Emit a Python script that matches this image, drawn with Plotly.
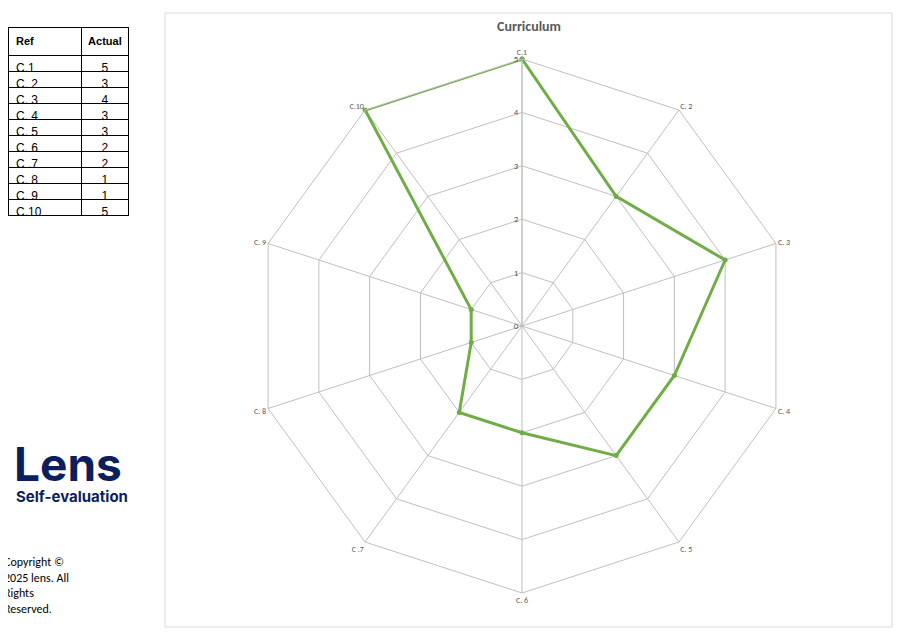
import plotly.graph_objects as go

# --- DATA ---
refs = ["C.1", "C. 2", "C. 3", "C. 4", "C. 5", "C. 6", "C .7", "C. 8", "C. 9", "C.10"]
axis_labels = ["C.1", "C. 2", "C. 3", "C. 4", "C. 5", "C. 6", "C .7", "C. 8", "C. 9", "C.10"]
actual = [5, 3, 4, 3, 3, 2, 2, 1, 1, 5]
radial_ticks = [0, 1, 2, 3, 4, 5]

W, H = 903, 640
OFF = 8  # page margin offset
GREEN = "#70AD47"
NAVY = "#0B1F5C"


def px_x(x):
    return (x - OFF) / W


def px_y(y):
    return 1 - (y - OFF) / H


fig = go.Figure()

# radar line
fig.add_trace(go.Scatterpolar(
    r=actual + actual[:1], theta=axis_labels + axis_labels[:1],
    mode="lines+markers", line=dict(color=GREEN, width=3),
    marker=dict(size=5, color=GREEN), showlegend=False, hoverinfo="r+theta",
))

# data table
fig.add_trace(go.Table(
    domain=dict(x=[0, px_x(128)], y=[px_y(260), px_y(27)]),
    columnwidth=[75, 47],
    header=dict(values=["<b>Ref</b>", "<b>Actual</b>"], align=["left", "center"],
                line=dict(color="black", width=1), fill_color="white",
                font=dict(family="Arial", size=11, color="black"), height=16),
    cells=dict(values=[refs, actual], align=["left", "center"],
               line=dict(color="black", width=1), fill_color="white",
               font=dict(family="Arial", size=12, color="black"), height=16),
))

cx, cy, R = 522, 326, 267
fig.update_layout(
    width=W, height=H, margin=dict(l=0, r=0, t=0, b=0),
    paper_bgcolor="white", plot_bgcolor="white",
    polar=dict(
        domain=dict(x=[px_x(cx - R), px_x(cx + R)], y=[px_y(cy + R), px_y(cy - R)]),
        bgcolor="white", gridshape="linear",
        angularaxis=dict(direction="clockwise", rotation=90, showline=True,
                         linecolor="#BFBFBF", gridcolor="#BFBFBF", ticks="",
                         tickfont=dict(family="Calibri, Carlito, Arial", size=8, color="#595959")),
        radialaxis=dict(range=[0, 5], tickvals=radial_ticks, angle=90, tickangle=90,
                        showline=True, linecolor="#BFBFBF", gridcolor="#BFBFBF",
                        ticks="", side="counterclockwise",
                        tickfont=dict(family="Calibri, Carlito, Arial", size=9, color="#595959")),
    ),
    title=dict(text="<b>Curriculum</b>", x=px_x(529), xanchor="center", y=px_y(26), yanchor="middle",
               font=dict(family="Calibri, Carlito, Arial", size=14, color="#595959")),
    shapes=[
        dict(type="rect", xref="paper", yref="paper", x0=px_x(165), x1=px_x(892),
             y0=px_y(627), y1=px_y(13), line=dict(color="#D9D9D9", width=1)),
    ],
    annotations=[
        dict(text="<b>Lens</b>", x=px_x(12), y=px_y(464), xref="paper", yref="paper",
             xanchor="left", yanchor="middle", showarrow=False,
             font=dict(family="Inter, Arial", size=46, color=NAVY)),
        dict(text="<b>Self-evaluation</b>", x=px_x(14), y=px_y(496), xref="paper", yref="paper",
             xanchor="left", yanchor="middle", showarrow=False,
             font=dict(family="Inter, Arial", size=15, color=NAVY)),
        dict(text="Copyright ©<br>2025 lens. All<br>Rights<br>Reserved.", x=px_x(2), y=px_y(553),
             xref="paper", yref="paper", xanchor="left", yanchor="top", align="left",
             showarrow=False, font=dict(family="Carlito, Calibri, Arial", size=12, color="black")),
    ],
)

fig.write_html("out.html")
